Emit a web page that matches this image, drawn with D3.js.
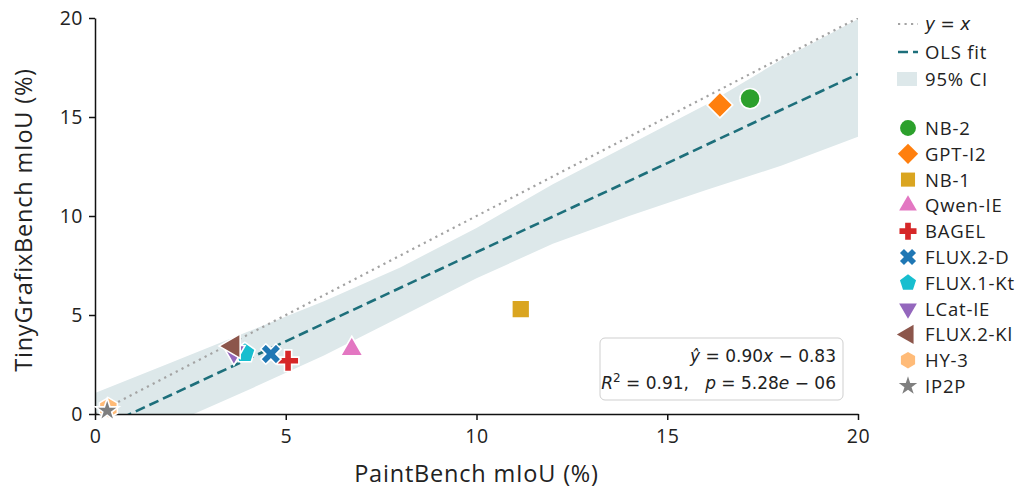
<!DOCTYPE html>
<html>
<head>
<meta charset="utf-8">
<script src="https://cdn.jsdelivr.net/npm/d3@7"></script>
<style>
  body { margin: 0; background: #fff; }
  svg { display: block; }
  .tick text { font-family: "Open Sans", sans-serif; font-size: 19.5px; fill: #222; letter-spacing: 0.5px; }
  .lab { font-family: "Open Sans", sans-serif; font-size: 23.5px; fill: #222; letter-spacing: 0.8px; }
  .leg { font-family: "Open Sans", sans-serif; font-size: 18.5px; fill: #222; letter-spacing: 0.8px; }
  .math { font-family: "DejaVu Sans", sans-serif; font-size: 17px; fill: #222; }
</style>
</head>
<body>
<svg id="chart" width="1024" height="490"></svg>
<script>
// ── data ──
const models  = ['NB-2','GPT-I2','NB-1','Qwen-IE','BAGEL','FLUX.2-D','FLUX.1-Kt','LCat-IE','FLUX.2-Kl','HY-3','IP2P'];
const paintX  = [17.17, 16.38, 11.16, 6.73, 5.06, 4.61, 3.93, 3.64, 3.62, 0.35, 0.32];
const tinyY   = [15.93, 15.61, 5.30, 3.27, 2.69, 3.03, 3.08, 3.13, 3.43, 0.30, 0.17];
const colors  = ['#2ca02c','#ff7f0e','#daa520','#e377c2','#d62728','#1f77b4','#17becf','#9467bd','#8c564b','#ffbb78','#7f7f7f'];
const shapes  = ['circle','diamond','square','triUp','plus','xcross','pentagon','triDown','triLeft','hexagon','star'];

// OLS fit from the annotation, 95% CI band edges
const fitSlope = 0.90, fitIntercept = -0.83;
const fitR2 = '0.91', fitP = '5.28e − 06';
const ciX  = [0, 2, 4, 6, 8, 10, 12, 14, 16, 18, 20];
const ciLo = [-2.3, -0.5, 1.2, 2.95, 4.9, 6.85, 8.6, 10.0, 11.3, 12.55, 14.0];
const ciHi = [1.06, 2.6, 4.15, 5.7, 7.4, 9.4, 11.6, 13.6, 15.6, 17.9, 19.95];

const xTicks = [0, 5, 10, 15, 20];
const yTicks = [0, 5, 10, 15, 20];

// ═══════════════════════════════════════════
//  SETUP
// ═══════════════════════════════════════════
const svg = d3.select('#chart');
const x = d3.scaleLinear([0, 20], [95, 858]);
const y = d3.scaleLinear([0, 20], [414, 18]);

svg.append('defs').append('clipPath').attr('id', 'plot-clip')
  .append('rect').attr('x', x(0)).attr('y', y(20)).attr('width', x(20) - x(0)).attr('height', y(0) - y(20));

// custom polygon symbols
function polygon(n, rot, k) {
  return {
    draw(ctx, size) {
      const r = Math.sqrt(size) * k;
      for (let i = 0; i < n; i++) {
        const a = rot + i * 2 * Math.PI / n;
        const px = r * Math.cos(a), py = r * Math.sin(a);
        i ? ctx.lineTo(px, py) : ctx.moveTo(px, py);
      }
      ctx.closePath();
    }
  };
}
const symPentagon = polygon(5, -Math.PI / 2, 0.62);
const symHexagon  = polygon(6, -Math.PI / 2, 0.6);

const shapeDefs = {
  circle:   { type: d3.symbolCircle,   size: 320, rot: 0 },
  diamond:  { type: d3.symbolSquare,   size: 330, rot: 45 },
  square:   { type: d3.symbolSquare,   size: 320, rot: 0 },
  triUp:    { type: d3.symbolTriangle, size: 220, rot: 0 },
  plus:     { type: d3.symbolCross,    size: 260, rot: 0 },
  xcross:   { type: d3.symbolCross,    size: 260, rot: 45 },
  pentagon: { type: symPentagon,       size: 300, rot: 0 },
  triDown:  { type: d3.symbolTriangle, size: 220, rot: 180 },
  triLeft:  { type: d3.symbolTriangle, size: 260, rot: -90 },
  hexagon:  { type: symHexagon,        size: 300, rot: 0 },
  star:     { type: d3.symbolStar,     size: 170, rot: 0 }
};
function symPath(name, scale) {
  const s = shapeDefs[name];
  return d3.symbol().type(s.type).size(s.size * scale)();
}

// ═══════════════════════════════════════════
//  BAND + LINES
// ═══════════════════════════════════════════
const gPlot = svg.append('g').attr('clip-path', 'url(#plot-clip)');

const band = d3.area()
  .x((d, i) => x(ciX[i]))
  .y0((d, i) => y(ciLo[i]))
  .y1((d, i) => y(ciHi[i]));
gPlot.append('path').datum(ciX).attr('d', band).attr('fill', '#dde8ea');

const line = d3.line().x(d => x(d[0])).y(d => y(d[1]));
gPlot.append('path').datum([[0, 0], [20, 20]]).attr('d', line)
  .attr('fill', 'none').attr('stroke', '#a3a3a3').attr('stroke-width', 2.2)
  .attr('stroke-dasharray', '2.2,4.3');
gPlot.append('path').datum([[0, fitIntercept], [20, fitSlope * 20 + fitIntercept]]).attr('d', line)
  .attr('fill', 'none').attr('stroke', '#1d6f7b').attr('stroke-width', 2.6)
  .attr('stroke-dasharray', '10,5');

// ═══════════════════════════════════════════
//  AXES
// ═══════════════════════════════════════════
const xAxis = svg.append('g').attr('transform', `translate(0,${y(0)})`)
  .call(d3.axisBottom(x).tickValues(xTicks).tickFormat(d3.format('d')).tickSize(6).tickSizeOuter(0).tickPadding(9));
const yAxis = svg.append('g').attr('transform', `translate(${x(0)},0)`)
  .call(d3.axisLeft(y).tickValues(yTicks).tickFormat(d3.format('d')).tickSize(6).tickSizeOuter(0).tickPadding(6));
[xAxis, yAxis].forEach(a => {
  a.selectAll('path, line').attr('stroke', '#111').attr('stroke-width', 1.5);
});

svg.append('text').attr('class', 'lab').attr('x', (x(0) + x(20)) / 2).attr('y', 482)
  .attr('text-anchor', 'middle').text('PaintBench mIoU (%)');
svg.append('text').attr('class', 'lab').attr('transform', `translate(32,${(y(0) + y(20)) / 2 + 4}) rotate(-90)`)
  .attr('text-anchor', 'middle').text('TinyGrafixBench mIoU (%)');

// ═══════════════════════════════════════════
//  POINTS
// ═══════════════════════════════════════════
svg.append('g').selectAll('path').data(models).join('path')
  .attr('d', (d, i) => symPath(shapes[i], 1))
  .attr('transform', (d, i) => `translate(${x(paintX[i])},${y(tinyY[i])}) rotate(${shapeDefs[shapes[i]].rot})`)
  .attr('fill', (d, i) => colors[i])
  .attr('stroke', '#fff').attr('stroke-width', 1.6);

// ═══════════════════════════════════════════
//  ANNOTATION
// ═══════════════════════════════════════════
svg.append('rect').attr('x', 600).attr('y', 338).attr('width', 243).attr('height', 62).attr('rx', 5)
  .attr('fill', '#fff').attr('fill-opacity', 0.9).attr('stroke', '#cfcfcf').attr('stroke-width', 1);
const t1 = svg.append('text').attr('class', 'math').attr('x', 836).attr('y', 362).attr('text-anchor', 'end');
t1.append('tspan').attr('font-style', 'italic').text('ŷ');
t1.append('tspan').text(` = 0.90`);
t1.append('tspan').attr('font-style', 'italic').text('x');
t1.append('tspan').text(`  −  ${Math.abs(fitIntercept).toFixed(2)}`);
const t2 = svg.append('text').attr('class', 'math').attr('x', 836).attr('y', 389).attr('text-anchor', 'end');
t2.append('tspan').attr('font-style', 'italic').text('R');
t2.append('tspan').attr('font-size', 12).attr('dy', -7).text('2');
t2.append('tspan').attr('dy', 7).text(` = ${fitR2},\u00a0\u00a0\u00a0`);
t2.append('tspan').attr('font-style', 'italic').text('p');
t2.append('tspan').text(` = ${fitP.split('e')[0]}`);
t2.append('tspan').attr('font-style', 'italic').text('e');
t2.append('tspan').text(fitP.split('e')[1]);

// ═══════════════════════════════════════════
//  LEGEND
// ═══════════════════════════════════════════
const lg = svg.append('g');
const lx = 898, tx = 925;
lg.append('line').attr('x1', lx).attr('x2', lx + 20).attr('y1', 24).attr('y2', 24)
  .attr('stroke', '#a3a3a3').attr('stroke-width', 2.2).attr('stroke-dasharray', '2.2,4.3');
const ty = lg.append('text').attr('class', 'math').attr('x', tx).attr('y', 30).attr('font-size', 19.5);
ty.append('tspan').attr('font-style', 'italic').text('y');
ty.append('tspan').text(' = ');
ty.append('tspan').attr('font-style', 'italic').text('x');
lg.append('line').attr('x1', lx).attr('x2', lx + 20).attr('y1', 52).attr('y2', 52)
  .attr('stroke', '#1d6f7b').attr('stroke-width', 2.6).attr('stroke-dasharray', '10,5');
lg.append('text').attr('class', 'leg').attr('x', tx).attr('y', 59).text('OLS fit');
lg.append('rect').attr('x', lx - 1).attr('y', 72).attr('width', 20).attr('height', 14).attr('fill', '#dde8ea');
lg.append('text').attr('class', 'leg').attr('x', tx).attr('y', 86).text('95% CI');

models.forEach((m, i) => {
  const cy = 128 + i * 25.8;
  lg.append('path').attr('d', symPath(shapes[i], 0.62))
    .attr('transform', `translate(${lx + 10},${cy}) rotate(${shapeDefs[shapes[i]].rot})`)
    .attr('fill', colors[i]);
  lg.append('text').attr('class', 'leg').attr('x', tx).attr('y', cy + 7).text(m);
});
</script>
</body>
</html>
